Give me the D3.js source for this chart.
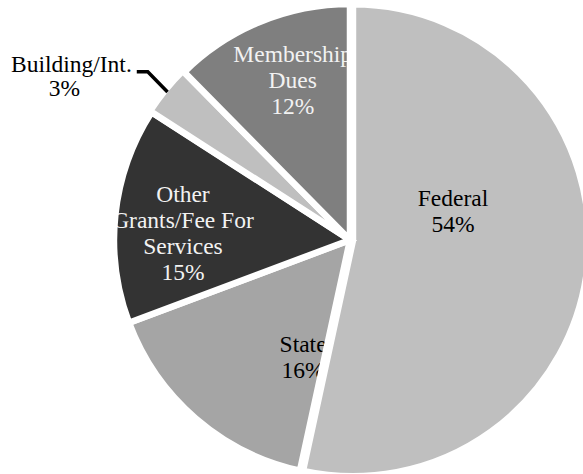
<!DOCTYPE html>
<meta charset='utf-8'>
<head>
  <title>Revenue Sources</title>
  <style>
    body { margin: 0; background: #fff; }
    svg text { font-family: 'Liberation Serif', 'Times New Roman', serif; font-size: 23.5px; }
  </style>
</head>
<body>
  <div id='chart'></div>
</body>
<script src='https://cdn.jsdelivr.net/npm/d3@7/dist/d3.min.js'></script>
<script>

// data (slice shares as drawn, and the printed labels)
var categories = ['Federal', 'State', 'Other\nGrants/Fee For\nServices', 'Building/Int.', 'Membership\nDues'];
var values = [53.4, 15.9, 14.8, 3.5, 12.4];
var percentLabels = ['54%', '16%', '15%', '3%', '12%'];
var colors = ['#bfbfbf', '#a5a5a5', '#333333', '#bfbfbf', '#7f7f7f'];
var textColors = ['#000', '#000', '#f2f2f2', '#000', '#f2f2f2'];

var width = 583,
    height = 474,
    cx = 350,
    cy = 240,
    radius = 236;

var svg = d3.select('#chart').append('svg')
    .attr('width', width)
    .attr('height', height);

var data = categories.map(function(c, i) {
  return { name: c, value: values[i], label: percentLabels[i], i: i };
});

var pie = d3.pie()
    .sort(null)
    .value(function(d) { return d.value; });

var arcs = pie(data);

var arc = d3.arc().innerRadius(0).outerRadius(radius);
var labelArc = d3.arc().innerRadius(radius * 0.55).outerRadius(radius * 0.55);

// small push-out for the exploded slices
var explode = [3, 0, 0, 2, 0];
// nudges for the inside labels, relative to the centroid
var nudge = [[-29, -42], [38, 20], [-38, 8], [0, 0], [-8, -39]];

function offset(d) {
  var a = (d.startAngle + d.endAngle) / 2,
      e = explode[d.data.i];
  return [cx + Math.sin(a) * e, cy - Math.cos(a) * e];
}

var defs = svg.append('defs');
arcs.forEach(function(d) {
  defs.append('clipPath')
      .attr('id', 'clip' + d.data.i)
    .append('path')
      .attr('d', arc(d));
});

var slices = svg.append('g').selectAll('g.slice')
    .data(arcs)
  .enter().append('g')
    .attr('class', 'slice')
    .attr('transform', function(d) { return 'translate(' + offset(d) + ')'; });

slices.append('path')
    .attr('d', arc)
    .style('fill', function(d) { return colors[d.data.i]; });

// inside labels, clipped to their slice
slices.filter(function(d) { return d.data.i !== 3; })
  .append('text')
    .attr('clip-path', function(d) { return 'url(#clip' + d.data.i + ')'; })
    .attr('text-anchor', 'middle')
    .style('fill', function(d) { return textColors[d.data.i]; })
    .each(function(d) {
      var c = labelArc.centroid(d),
          n = nudge[d.data.i],
          lines = d.data.name.split('\n').concat([d.data.label]),
          lh = 26,
          x = c[0] + n[0],
          y0 = c[1] + n[1] - (lines.length - 1) * lh / 2 + 7;
      var t = d3.select(this);
      lines.forEach(function(l, k) {
        t.append('tspan')
            .attr('x', x)
            .attr('y', y0 + k * lh)
            .text(l);
      });
    });

// white borders drawn over the labels
slices.append('path')
    .attr('d', arc)
    .style('fill', 'none')
    .style('stroke', '#fff')
    .style('stroke-width', 6.5)
    .style('stroke-linejoin', 'miter');

// outside label with leader line for the small slice
var small = arcs[3],
    o = offset(small),
    ma = (small.startAngle + small.endAngle) / 2,
    p1 = [o[0] + Math.sin(ma) * (radius - 3), o[1] - Math.cos(ma) * (radius - 3)],
    p2 = [o[0] + Math.sin(ma + 0.012) * (radius + 25), o[1] - Math.cos(ma + 0.012) * (radius + 25)],
    p3 = [p2[0] - 11, p2[1]];

svg.append('path')
    .attr('d', d3.line()([p1, p2, p3]))
    .style('fill', 'none')
    .style('stroke', '#000')
    .style('stroke-width', 3.5);

var ot = svg.append('text')
    .attr('text-anchor', 'middle')
    .style('fill', textColors[3]);
var first = ot.append('tspan').text(small.data.name);
var w = first.node().getComputedTextLength();
var lx = p3[0] - 5 - w / 2;
first.attr('x', lx).attr('y', p3[1]);
ot.append('tspan')
    .attr('x', lx - 7)
    .attr('y', p3[1] + 24)
    .text(small.data.label);

</script>
